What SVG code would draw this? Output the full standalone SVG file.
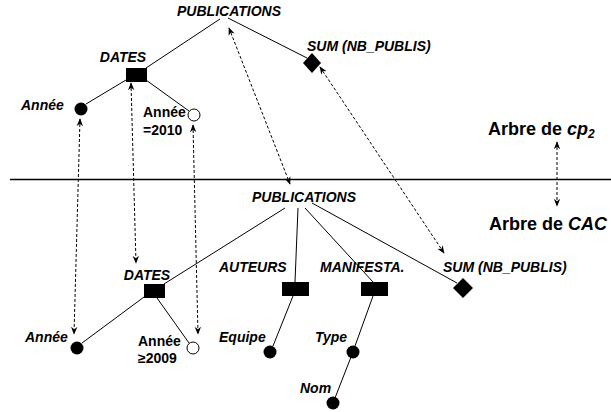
<svg xmlns="http://www.w3.org/2000/svg" width="611" height="412" viewBox="0 0 611 412">
<defs>
<marker id="ah" viewBox="0 0 10 8" refX="9" refY="4" markerWidth="8" markerHeight="7" orient="auto-start-reverse" markerUnits="userSpaceOnUse">
<path d="M0,0 L10,4 L0,8 L3,4 z" fill="#000"/>
</marker>
</defs>
<style>
.lbl{font-family:"Liberation Sans",Arial,sans-serif;font-weight:bold;font-style:italic;font-size:14px;fill:#000}
.lbn{font-family:"Liberation Sans",Arial,sans-serif;font-weight:bold;font-size:14px;fill:#000}
.big{font-family:"Liberation Sans",Arial,sans-serif;font-weight:bold;font-size:18px;fill:#000}
.edge{stroke:#000;stroke-width:1;fill:none}
.dash{stroke:#000;stroke-width:1;fill:none;stroke-dasharray:3,2;marker-start:url(#ah);marker-end:url(#ah)}
.full{fill:#000}
.open{fill:#fff;stroke:#000;stroke-width:1}
</style>
<rect width="611" height="412" fill="#fff"/>
<g id="connectors">
<line class="edge" x1="220" y1="19" x2="146" y2="68"/>
<line class="edge" x1="228" y1="18" x2="307" y2="58"/>
<line class="edge" x1="126" y1="80" x2="86" y2="104"/>
<line class="edge" x1="146" y1="80" x2="189" y2="111"/>
<line stroke="#000" stroke-width="1.3" x1="10" y1="179.5" x2="611" y2="179.5"/>
<line class="edge" x1="285" y1="208" x2="164" y2="284"/>
<line class="edge" x1="298" y1="208" x2="295" y2="282"/>
<line class="edge" x1="305" y1="208" x2="373" y2="282"/>
<line class="edge" x1="312" y1="203" x2="457" y2="283"/>
<line class="edge" x1="144" y1="297" x2="82" y2="343"/>
<line class="edge" x1="157" y1="298" x2="189" y2="343"/>
<line class="edge" x1="293" y1="296" x2="273" y2="346"/>
<line class="edge" x1="373" y1="296" x2="355" y2="346"/>
<line class="edge" x1="351" y1="357" x2="335" y2="398"/>
<line class="dash" x1="80" y1="119" x2="74" y2="334"/>
<line class="dash" x1="131" y1="83" x2="136" y2="263"/>
<line class="dash" x1="193" y1="125" x2="198" y2="334"/>
<line class="dash" x1="229" y1="28" x2="290" y2="184"/>
<line class="dash" x1="320" y1="67" x2="444" y2="253"/>
<line class="dash" x1="557" y1="142" x2="557" y2="206"/>
</g>
<g id="top-publications"><text class="lbl" x="229" y="16" text-anchor="middle">PUBLICATIONS</text></g>
<g id="top-dates"><text class="lbl" x="123" y="62" text-anchor="middle">DATES</text><rect class="full" x="126" y="68" width="21" height="14"/></g>
<g id="top-annee"><text class="lbl" x="21" y="110">Année</text><circle class="full" cx="81" cy="109" r="6.5"/></g>
<g id="top-annee2010"><text class="lbn" x="143" y="117">Année</text><text class="lbn" x="143" y="135">=2010</text><circle class="open" cx="194" cy="115" r="6"/></g>
<g id="top-sum"><text class="lbl" x="307" y="51">SUM (NB_PUBLIS)</text><polygon class="full" points="312,53 321,63 312,73 303,63"/></g>
<g id="label-cp2"><text class="big" x="488" y="135">Arbre de <tspan font-style="italic">cp</tspan><tspan font-style="italic" font-size="12" dy="3">2</tspan></text></g>
<g id="label-cac"><text class="big" x="489" y="230">Arbre de <tspan font-style="italic">CAC</tspan></text></g>
<g id="bot-publications"><text class="lbl" x="304" y="202" text-anchor="middle">PUBLICATIONS</text></g>
<g id="bot-dates"><text class="lbl" x="147" y="280" text-anchor="middle">DATES</text><rect class="full" x="144" y="284" width="21" height="14"/></g>
<g id="bot-annee"><text class="lbl" x="25" y="342">Année</text><circle class="full" cx="77" cy="348" r="6.5"/></g>
<g id="bot-annee2009"><text class="lbn" x="138" y="346">Année</text><text class="lbn" x="138" y="363">≥2009</text><circle class="open" cx="193" cy="348" r="6"/></g>
<g id="bot-auteurs"><text class="lbl" x="219" y="272">AUTEURS</text><rect class="full" x="282" y="282" width="27" height="14"/></g>
<g id="bot-equipe"><text class="lbl" x="219" y="342">Equipe</text><circle class="full" cx="270" cy="352" r="6.5"/></g>
<g id="bot-manifesta"><text class="lbl" x="320" y="272">MANIFESTA.</text><rect class="full" x="361" y="282" width="27" height="14"/></g>
<g id="bot-type"><text class="lbl" x="315" y="342">Type</text><circle class="full" cx="353" cy="352" r="6.5"/></g>
<g id="bot-nom"><text class="lbl" x="300" y="393">Nom</text><circle class="full" cx="333" cy="403" r="6.5"/></g>
<g id="bot-sum"><text class="lbl" x="443" y="272">SUM (NB_PUBLIS)</text><polygon class="full" points="463,278 473,288 463,298 453,288"/></g>
</svg>
